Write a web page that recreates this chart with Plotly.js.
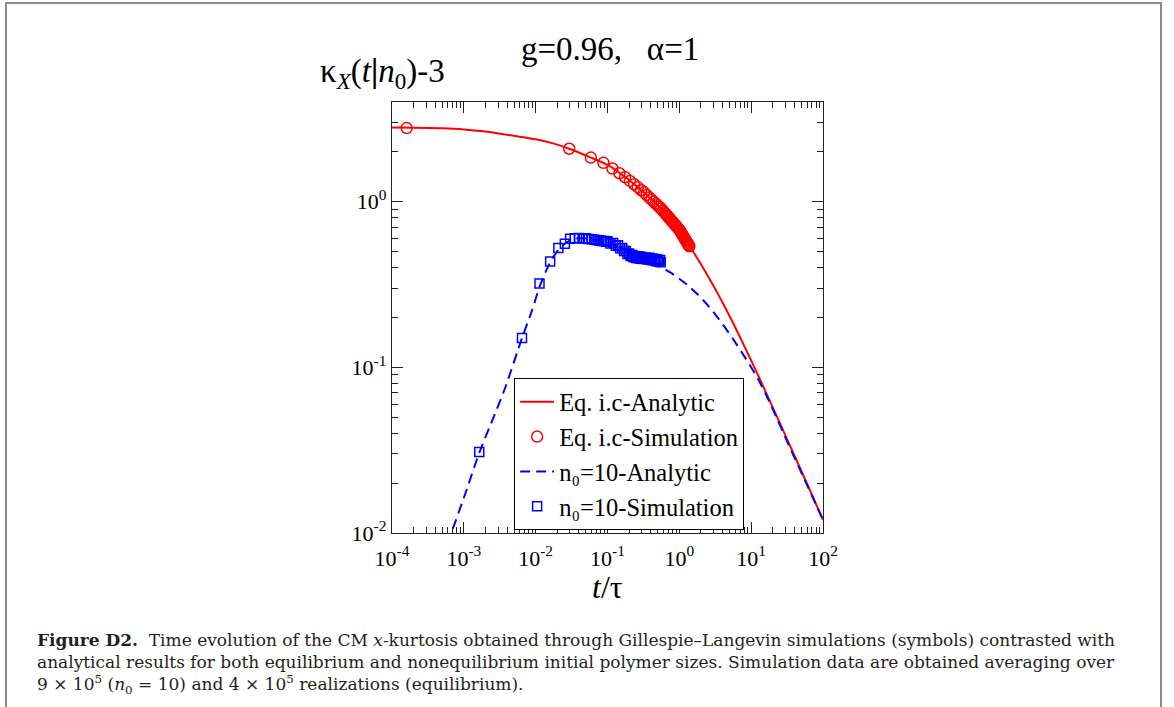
<!DOCTYPE html>
<html><head><meta charset="utf-8">
<script src="https://cdn.plot.ly/plotly-3.0.1.min.js"></script>
<style>
html,body{margin:0;padding:0;background:#fff;}
#wrap{position:relative;width:1174px;height:707px;overflow:hidden;}
#chart{width:1174px;height:707px;}
#frame{position:absolute;left:5px;top:2px;width:1153px;height:720px;border:2px solid #8c8c8c;pointer-events:none;}
</style>
</head><body><div id="wrap"><div id="chart"></div><div id="frame"></div></div>
<script>
// ---- data ----
var eqAnaT = [1e-4, 2e-4, 5e-4, 1e-3, 2e-3, 3.4e-3, 6e-3, 0.01, 0.0175, 0.0293, 0.0586, 0.1, 0.178, 0.316, 0.562, 1.0, 1.334, 1.778, 2.371, 3.162, 4.217, 5.623, 7.499, 10, 13.34, 17.78, 31.62, 56.23, 100];
var eqAnaY = [2.79, 2.78, 2.76, 2.72, 2.64, 2.55, 2.46, 2.37, 2.24, 2.08, 1.84, 1.66, 1.40, 1.14, 0.902, 0.676, 0.555, 0.4545, 0.3688, 0.2963, 0.2351, 0.1841, 0.1427, 0.1098, 0.0840, 0.0640, 0.0368, 0.0211, 0.0120];

var eqSimT = [0.00016, 0.0293, 0.0586, 0.0879, 0.1172, 0.1465, 0.1758, 0.2051, 0.2344, 0.2637, 0.293, 0.3223, 0.3516, 0.3809, 0.4102, 0.4395, 0.4688, 0.4981, 0.5274, 0.5567, 0.586, 0.6153, 0.6446, 0.6739, 0.7032, 0.7325, 0.7618, 0.7911, 0.8204, 0.8497, 0.879, 0.9083, 0.9376, 0.9669, 0.9962, 1.0255, 1.0548, 1.0841, 1.1134, 1.1427, 1.172, 1.2013, 1.2306, 1.2599, 1.2892, 1.3185, 1.3478, 1.3771];
var eqSimY = [2.77, 2.08, 1.84, 1.71, 1.58, 1.48, 1.40, 1.33, 1.27, 1.22, 1.17, 1.135, 1.094, 1.058, 1.027, 0.998, 0.972, 0.948, 0.926, 0.906, 0.883, 0.862, 0.842, 0.823, 0.806, 0.790, 0.774, 0.760, 0.746, 0.733, 0.721, 0.709, 0.698, 0.687, 0.677, 0.664, 0.651, 0.638, 0.626, 0.614, 0.603, 0.592, 0.582, 0.573, 0.563, 0.554, 0.545, 0.537];

var n0AnaT = [5e-4, 6.7e-4, 1.05e-3, 1.64e-3, 2.5e-3, 3.8e-3, 6.45e-3, 0.0089, 0.0113, 0.0159, 0.0207, 0.026, 0.032, 0.04, 0.05, 0.068, 0.1, 0.15, 0.2, 0.25, 0.3, 0.4, 0.55, 0.75, 1.0, 1.334, 1.778, 2.371, 3.162, 4.217, 5.623, 7.499, 10, 13.34, 17.78, 23.71, 31.62, 56.23, 100];
var n0AnaY = [0.0070, 0.0100, 0.0173, 0.0305, 0.048, 0.076, 0.150, 0.22, 0.305, 0.43, 0.51, 0.56, 0.59, 0.60, 0.598, 0.585, 0.565, 0.53, 0.497, 0.468, 0.448, 0.427, 0.403, 0.373, 0.342, 0.310, 0.2767, 0.2424, 0.2084, 0.1764, 0.1474, 0.1219, 0.0999, 0.0804, 0.0624, 0.0473, 0.0357, 0.0207, 0.0120];

var n0SimT = [0.00164, 0.00645, 0.0113, 0.0159, 0.0207, 0.0255, 0.0302, 0.035, 0.040, 0.045, 0.050, 0.055, 0.060, 0.065, 0.070, 0.075, 0.080, 0.085, 0.090, 0.095, 0.10, 0.11, 0.12, 0.13, 0.14, 0.15, 0.16, 0.17, 0.18, 0.19, 0.20, 0.21, 0.22, 0.23, 0.24, 0.25, 0.26, 0.27, 0.28, 0.29, 0.30, 0.32, 0.34, 0.36, 0.38, 0.40, 0.42, 0.44, 0.46, 0.48, 0.50, 0.52, 0.54, 0.55];
var n0SimY = [0.0308, 0.150, 0.320, 0.435, 0.524, 0.556, 0.596, 0.600, 0.602, 0.598, 0.600, 0.593, 0.592, 0.588, 0.585, 0.583, 0.580, 0.578, 0.577, 0.572, 0.576, 0.557, 0.562, 0.540, 0.544, 0.522, 0.524, 0.502, 0.503, 0.482, 0.486, 0.468, 0.476, 0.460, 0.469, 0.456, 0.467, 0.454, 0.465, 0.452, 0.463, 0.449, 0.459, 0.446, 0.457, 0.443, 0.453, 0.440, 0.450, 0.436, 0.447, 0.433, 0.443, 0.430];

var xTickVals = [1e-4, 1e-3, 1e-2, 1e-1, 1, 10, 100];
var xTickText = ['10<sup>-4</sup>', '10<sup>-3</sup>', '10<sup>-2</sup>', '10<sup>-1</sup>', '10<sup>0</sup>', '10<sup>1</sup>', '10<sup>2</sup>'];
var yTickVals = [0.01, 0.1, 1];
var yTickText = ['10<sup>-2</sup>', '10<sup>-1</sup>', '10<sup>0</sup>'];

var seriesNames = ['Eq. i.c-Analytic', 'Eq. i.c-Simulation', 'n\u2080=10-Analytic', 'n\u2080=10-Simulation'];
var titleText = 'g=0.96,\u00a0\u00a0\u00a0\u03b1=1';
var yTitleText = '\u03ba<sub><i>X</i></sub>(<i>t</i><b>|</b><i>n</i><sub>0</sub>)-3';
var xTitleText = '<i>t</i>/\u03c4';
var captionText = '<b>Figure D2.</b>\u00a0\u00a0Time evolution of the CM <i>x</i>-kurtosis obtained through Gillespie\u2013Langevin simulations (symbols) contrasted with<br>' +
  'analytical results for both equilibrium and nonequilibrium initial polymer sizes. Simulation data are obtained averaging over<br>' +
  '9 \u00d7 10<sup>5</sup> (<i>n</i><sub>0</sub> = 10) and 4 \u00d7 10<sup>5</sup> realizations (equilibrium).';

// ---- build ----
function minorVals(e0, e1) {
  var v = [];
  for (var e = e0; e <= e1; e++) for (var m = 2; m <= 9; m++) v.push(m * Math.pow(10, e));
  return v;
}
var F = '"Liberation Serif", "Times New Roman", serif';
var FC = '"DejaVu Serif", serif';
var traces = [
  {x: eqAnaT, y: eqAnaY, name: seriesNames[0], mode: 'lines', line: {color: '#ff0000', width: 2, shape: 'spline', smoothing: 0.6}},
  {x: eqSimT, y: eqSimY, name: seriesNames[1], mode: 'markers', marker: {symbol: 'circle-open', size: 11, color: '#ff0000', line: {width: 1.5, color: '#ff0000'}}},
  {x: n0AnaT, y: n0AnaY, name: seriesNames[2], mode: 'lines', line: {color: '#0000ff', width: 2, dash: '10px,6px', shape: 'spline', smoothing: 0.6}},
  {x: n0SimT, y: n0SimY, name: seriesNames[3], mode: 'markers', marker: {symbol: 'square-open', size: 9, color: '#0000ff', line: {width: 1.5, color: '#0000ff'}}}
];
var axCommon = {
  type: 'log', showgrid: false, zeroline: false, showline: true, linecolor: '#222', linewidth: 1.2,
  mirror: 'allticks', ticks: 'inside', ticklen: 11, tickwidth: 1.2, tickcolor: '#222',
  tickmode: 'array', tickfont: {family: F, size: 22, color: '#000'}
};
var xa = Object.assign({}, axCommon, {range: [-4, 2], tickvals: xTickVals, ticktext: xTickText, ticklabelstandoff: 5,
  minor: {tickmode: 'array', tickvals: minorVals(-4, 1), ticks: 'inside', ticklen: 6, tickwidth: 1, tickcolor: '#222', showgrid: false}});
var ya = Object.assign({}, axCommon, {range: [-2, 0.6], tickvals: yTickVals, ticktext: yTickText,
  minor: {tickmode: 'array', tickvals: minorVals(-2, 0), ticks: 'inside', ticklen: 6, tickwidth: 1, tickcolor: '#222', showgrid: false}});

function px(x) { return (x - 391.7) / 431.6; }
function py(y) { return (532.7 - y) / 431; }

var layout = {
  width: 1174, height: 707,
  margin: {l: 391.7, r: 350.7, t: 101.7, b: 174.3, pad: 0},
  paper_bgcolor: '#fff', plot_bgcolor: '#fff',
  font: {family: F, color: '#000'},
  xaxis: xa, yaxis: ya,
  showlegend: true,
  legend: {x: px(514), y: py(378), xanchor: 'left', yanchor: 'top', bgcolor: '#fff', bordercolor: '#000', borderwidth: 1,
           font: {family: F, size: 24.5, color: '#000'}, tracegroupgap: 0, itemwidth: 34},
  annotations: [
    {text: titleText, xref: 'paper', yref: 'paper', x: px(610), y: py(49), xanchor: 'center', yanchor: 'middle', showarrow: false, font: {family: F, size: 33, color: '#000'}},
    {text: yTitleText, xref: 'paper', yref: 'paper', x: px(318), y: py(73), xanchor: 'left', yanchor: 'middle', showarrow: false, font: {family: F, size: 33, color: '#000'}},
    {text: xTitleText, xref: 'paper', yref: 'paper', x: px(608), y: py(587), xanchor: 'center', yanchor: 'middle', showarrow: false, font: {family: F, size: 32, color: '#000'}},
    {text: captionText, xref: 'paper', yref: 'paper', x: px(34), y: py(628), xanchor: 'left', yanchor: 'top', align: 'left', showarrow: false, font: {family: FC, size: 17, color: '#231f20'}}
  ]
};
Plotly.newPlot('chart', traces, layout, {displayModeBar: false, staticPlot: true});
</script></body></html>
